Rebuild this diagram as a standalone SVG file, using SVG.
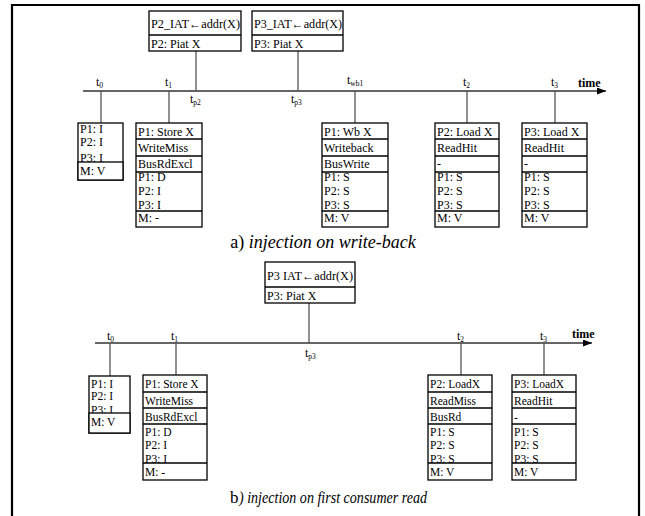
<svg xmlns="http://www.w3.org/2000/svg" width="645" height="516" viewBox="0 0 645 516">
<style>
.bx{fill:#fff;stroke:#000;stroke-width:1.3}
.dv{stroke:#000;stroke-width:1.3}
.ta{font-family:"Liberation Serif","Times New Roman",serif;font-size:12px;fill:#000}
.tb{font-family:"Liberation Serif","Times New Roman",serif;font-size:11.5px;fill:#000}
.tt{font-family:"Liberation Serif","Times New Roman",serif;font-size:12px;fill:#000}
.lb{font-family:"Liberation Serif","Times New Roman",serif;font-size:12px;fill:#000}
.sb{font-size:7.5px}
.tm{font-family:"Liberation Serif","Times New Roman",serif;font-size:12px;font-weight:bold;fill:#000}
.cap{font-family:"Liberation Serif","Times New Roman",serif;font-size:18px;fill:#000}
.capb{font-family:"Liberation Serif","Times New Roman",serif;font-size:17px;fill:#000}
.tick{stroke:#555;stroke-width:1.3}
.axis{stroke:#333;stroke-width:1.3;fill:none}
.frame{stroke:#000;stroke-width:2.2;fill:none}
</style>
<defs>
<marker id="arr" markerUnits="userSpaceOnUse" markerWidth="10" markerHeight="8" refX="9" refY="3.5" orient="auto">
<path d="M0,0 L9,3.5 L0,7 z" fill="#000"/>
</marker>
</defs>
<rect width="645" height="516" fill="#fff"/>
<path class="frame" d="M12,516 V5 H639 V516"/>

<g id="connectors">
<line class="axis" x1="83" y1="91" x2="606" y2="91" marker-end="url(#arr)"/>
<line class="tick" x1="101" y1="91" x2="101" y2="123"/>
<line class="tick" x1="169" y1="91" x2="169" y2="123"/>
<line class="tick" x1="355" y1="91" x2="355" y2="123"/>
<line class="tick" x1="467" y1="91" x2="467" y2="123"/>
<line class="tick" x1="555" y1="91" x2="555" y2="123"/>
<line class="tick" x1="196" y1="51" x2="196" y2="91"/>
<line class="tick" x1="298" y1="51" x2="298" y2="91"/>
<line class="axis" x1="95" y1="343" x2="592" y2="343" marker-end="url(#arr)"/>
<line class="tick" x1="110" y1="343" x2="110" y2="376"/>
<line class="tick" x1="176" y1="343" x2="176" y2="375"/>
<line class="tick" x1="461" y1="343" x2="461" y2="375"/>
<line class="tick" x1="544" y1="343" x2="544" y2="375"/>
<line class="tick" x1="309" y1="303" x2="309" y2="343"/>
</g>

<g id="labels-a">
<text class="lb" x="96" y="86">t<tspan class="sb" dy="2">0</tspan></text>
<text class="lb" x="165" y="86">t<tspan class="sb" dy="2">1</tspan></text>
<text class="lb" x="190" y="103">t<tspan class="sb" dy="2">p2</tspan></text>
<text class="lb" x="291" y="103">t<tspan class="sb" dy="2">p3</tspan></text>
<text class="lb" x="347" y="84">t<tspan class="sb" dy="2">wb1</tspan></text>
<text class="lb" x="463" y="86">t<tspan class="sb" dy="2">2</tspan></text>
<text class="lb" x="551" y="86">t<tspan class="sb" dy="2">3</tspan></text>
<text class="tm" x="578" y="87">time</text>
</g>

<g id="iat-p2">
<rect class="bx" x="149" y="11" width="92" height="40"/>
<line class="dv" x1="149" y1="35" x2="241" y2="35"/>
<text class="tt" x="151" y="28" textLength="89" lengthAdjust="spacingAndGlyphs">P2_IAT←addr(X)</text>
<text class="tt" x="151" y="48">P2: Piat X</text>
</g>
<g id="iat-p3">
<rect class="bx" x="252" y="11" width="91" height="40"/>
<line class="dv" x1="252" y1="35" x2="343" y2="35"/>
<text class="tt" x="254" y="28" textLength="88" lengthAdjust="spacingAndGlyphs">P3_IAT←addr(X)</text>
<text class="tt" x="254" y="48">P3: Piat X</text>
</g>

<g id="a-t0">
<rect class="bx" x="78" y="123" width="45" height="57"/>
<text class="ta" x="80" y="133">P1: I</text>
<text class="ta" x="80" y="146">P2: I</text>
<text class="ta" x="80" y="162">P3: I</text>
<rect class="bx" x="78" y="162" width="45" height="18"/>
<text class="ta" x="80" y="175">M: V</text>
</g>

<g id="a-t1">
<rect class="bx" x="136" y="123" width="66" height="104"/>
<line class="dv" x1="136" y1="139" x2="202" y2="139"/>
<line class="dv" x1="136" y1="156" x2="202" y2="156"/>
<line class="dv" x1="136" y1="172" x2="202" y2="172"/>
<line class="dv" x1="136" y1="211" x2="202" y2="211"/>
<text class="ta" x="138" y="135.5">P1: Store X</text>
<text class="ta" x="138" y="152">WriteMiss</text>
<text class="ta" x="138" y="168">BusRdExcl</text>
<text class="ta" x="138" y="181">P1: D</text>
<text class="ta" x="138" y="195">P2: I</text>
<text class="ta" x="138" y="208.5">P3: I</text>
<text class="ta" x="138" y="222">M: -</text>
</g>

<g id="a-twb">
<rect class="bx" x="322" y="123" width="66" height="104"/>
<line class="dv" x1="322" y1="139" x2="388" y2="139"/>
<line class="dv" x1="322" y1="156" x2="388" y2="156"/>
<line class="dv" x1="322" y1="172" x2="388" y2="172"/>
<line class="dv" x1="322" y1="211" x2="388" y2="211"/>
<text class="ta" x="324" y="135.5">P1: Wb X</text>
<text class="ta" x="324" y="152">Writeback</text>
<text class="ta" x="324" y="168">BusWrite</text>
<text class="ta" x="324" y="181">P1: S</text>
<text class="ta" x="324" y="195">P2: S</text>
<text class="ta" x="324" y="208.5">P3: S</text>
<text class="ta" x="324" y="222">M: V</text>
</g>

<g id="a-t2">
<rect class="bx" x="435" y="123" width="64" height="104"/>
<line class="dv" x1="435" y1="139" x2="499" y2="139"/>
<line class="dv" x1="435" y1="156" x2="499" y2="156"/>
<line class="dv" x1="435" y1="172" x2="499" y2="172"/>
<line class="dv" x1="435" y1="211" x2="499" y2="211"/>
<text class="ta" x="437" y="135.5">P2: Load X</text>
<text class="ta" x="437" y="152">ReadHit</text>
<text class="ta" x="437" y="168">-</text>
<text class="ta" x="437" y="181">P1: S</text>
<text class="ta" x="437" y="195">P2: S</text>
<text class="ta" x="437" y="208.5">P3: S</text>
<text class="ta" x="437" y="222">M: V</text>
</g>

<g id="a-t3">
<rect class="bx" x="522" y="123" width="65" height="104"/>
<line class="dv" x1="522" y1="139" x2="587" y2="139"/>
<line class="dv" x1="522" y1="156" x2="587" y2="156"/>
<line class="dv" x1="522" y1="172" x2="587" y2="172"/>
<line class="dv" x1="522" y1="211" x2="587" y2="211"/>
<text class="ta" x="524" y="135.5">P3: Load X</text>
<text class="ta" x="524" y="152">ReadHit</text>
<text class="ta" x="524" y="168">-</text>
<text class="ta" x="524" y="181">P1: S</text>
<text class="ta" x="524" y="195">P2: S</text>
<text class="ta" x="524" y="208.5">P3: S</text>
<text class="ta" x="524" y="222">M: V</text>
</g>

<text class="cap" x="323" y="248" text-anchor="middle">a) <tspan font-style="italic">injection on write-back</tspan></text>

<g id="iat-b">
<rect class="bx" x="265" y="262" width="90" height="41"/>
<line class="dv" x1="265" y1="287" x2="355" y2="287"/>
<text class="tt" x="267" y="280" textLength="86" lengthAdjust="spacingAndGlyphs">P3  IAT←addr(X)</text>
<text class="tt" x="267" y="300">P3: Piat X</text>
</g>

<g id="labels-b">
<text class="lb" x="107" y="340">t<tspan class="sb" dy="2">0</tspan></text>
<text class="lb" x="171" y="340">t<tspan class="sb" dy="2">1</tspan></text>
<text class="lb" x="305" y="357">t<tspan class="sb" dy="2">p3</tspan></text>
<text class="lb" x="457" y="340">t<tspan class="sb" dy="2">2</tspan></text>
<text class="lb" x="540" y="340">t<tspan class="sb" dy="2">3</tspan></text>
<text class="tm" x="572" y="338">time</text>
</g>

<g id="b-t0">
<rect class="bx" x="89" y="376" width="41" height="57"/>
<text class="tb" x="91" y="387.5">P1: I</text>
<text class="tb" x="91" y="400">P2: I</text>
<text class="tb" x="91" y="414">P3: I</text>
<rect class="bx" x="89" y="413" width="41" height="20"/>
<text class="tb" x="91" y="426">M: V</text>
</g>

<g id="b-t1">
<rect class="bx" x="143" y="375" width="64" height="105"/>
<line class="dv" x1="143" y1="392" x2="207" y2="392"/>
<line class="dv" x1="143" y1="408" x2="207" y2="408"/>
<line class="dv" x1="143" y1="424" x2="207" y2="424"/>
<line class="dv" x1="143" y1="463" x2="207" y2="463"/>
<text class="tb" x="145" y="388">P1: Store X</text>
<text class="tb" x="145" y="405">WriteMiss</text>
<text class="tb" x="145" y="421">BusRdExcl</text>
<text class="tb" x="145" y="436">P1: D</text>
<text class="tb" x="145" y="449">P2: I</text>
<text class="tb" x="145" y="462.5">P3: I</text>
<text class="tb" x="145" y="476">M: -</text>
</g>

<g id="b-t2">
<rect class="bx" x="428" y="375" width="64" height="105"/>
<line class="dv" x1="428" y1="392" x2="492" y2="392"/>
<line class="dv" x1="428" y1="408" x2="492" y2="408"/>
<line class="dv" x1="428" y1="424" x2="492" y2="424"/>
<line class="dv" x1="428" y1="463" x2="492" y2="463"/>
<text class="tb" x="430" y="388">P2: LoadX</text>
<text class="tb" x="430" y="405">ReadMiss</text>
<text class="tb" x="430" y="421">BusRd</text>
<text class="tb" x="430" y="436">P1: S</text>
<text class="tb" x="430" y="449">P2: S</text>
<text class="tb" x="430" y="462.5">P3: S</text>
<text class="tb" x="430" y="476">M: V</text>
</g>

<g id="b-t3">
<rect class="bx" x="512" y="375" width="64" height="105"/>
<line class="dv" x1="512" y1="392" x2="576" y2="392"/>
<line class="dv" x1="512" y1="408" x2="576" y2="408"/>
<line class="dv" x1="512" y1="424" x2="576" y2="424"/>
<line class="dv" x1="512" y1="463" x2="576" y2="463"/>
<text class="tb" x="514" y="388">P3: LoadX</text>
<text class="tb" x="514" y="405">ReadHit</text>
<text class="tb" x="514" y="421">-</text>
<text class="tb" x="514" y="436">P1: S</text>
<text class="tb" x="514" y="449">P2: S</text>
<text class="tb" x="514" y="462.5">P3: S</text>
<text class="tb" x="514" y="476">M: V</text>
</g>

<text class="capb" x="230" y="503">b</text>
<text class="capb" x="239" y="503" font-style="italic" textLength="188" lengthAdjust="spacingAndGlyphs">) injection on first consumer read</text>
</svg>
